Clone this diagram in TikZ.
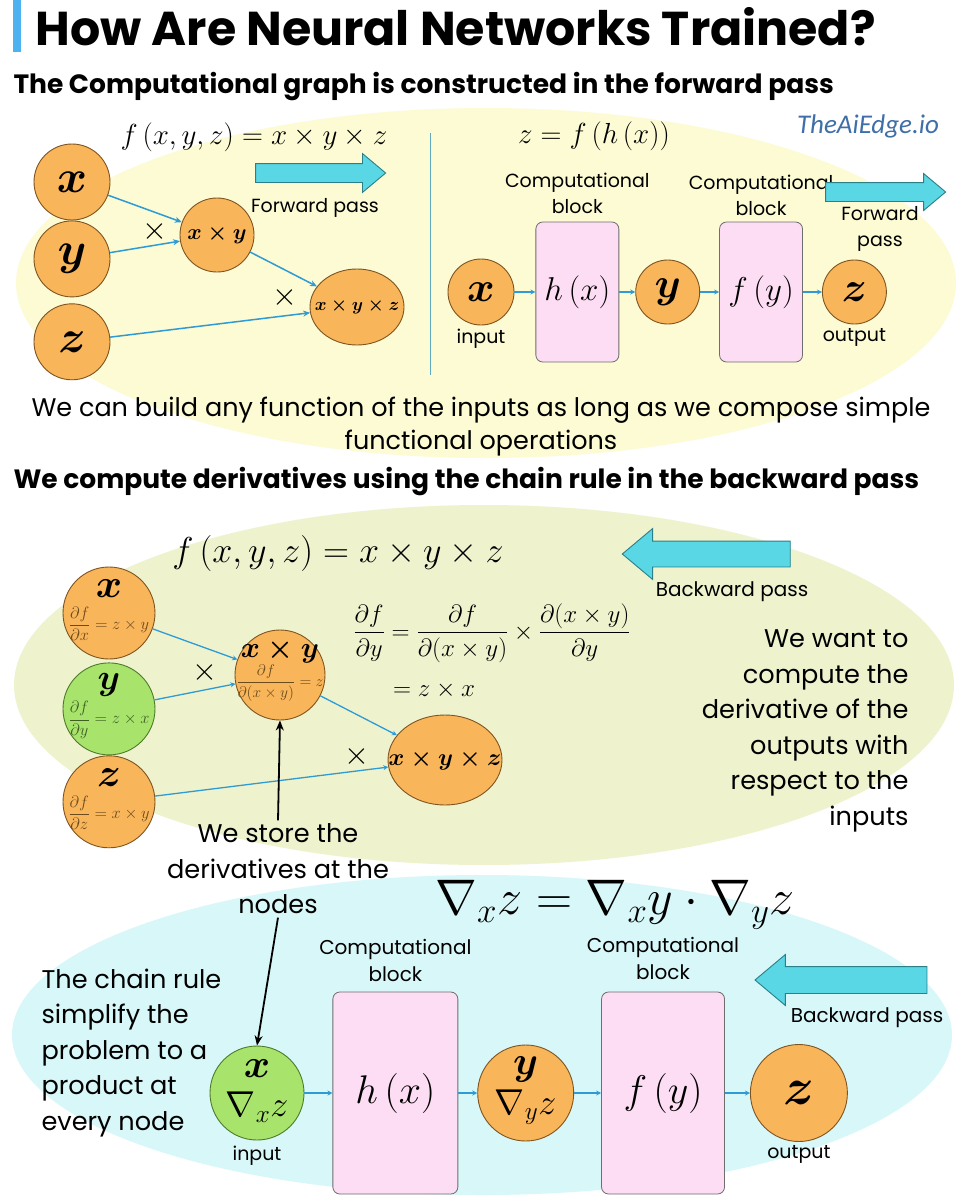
\RequirePackage{fix-cm}
\documentclass[tikz,border=0pt]{standalone}
\usepackage{amsmath}
\usepackage{amssymb}
\usepackage[no-math]{fontspec}
\setmainfont{Poppins}
\newfontfamily\brandfont{Carlito}
\usetikzlibrary{positioning, shapes.geometric, shapes.arrows, arrows.meta}

\definecolor{yellowbg}{HTML}{FCFBD3}
\definecolor{greenbg}{HTML}{EEF3CE}
\definecolor{cyanbg}{HTML}{D7F7F9}
\definecolor{bubfill}{HTML}{F9B55A}
\definecolor{bubedge}{HTML}{7E5420}
\definecolor{gbubfill}{HTML}{A8E46C}
\definecolor{gbubedge}{HTML}{4E7A2A}
\definecolor{blockfill}{HTML}{FDDDF3}
\definecolor{blockedge}{HTML}{6E6E6E}
\definecolor{arrowfill}{HTML}{5AD7E4}
\definecolor{arrowedge}{HTML}{2B7F88}
\definecolor{linkblue}{HTML}{2E9BD6}
\definecolor{titlebar}{HTML}{4DB3F0}
\definecolor{brandblue}{HTML}{3F6FA8}
\definecolor{derivbrown}{HTML}{6B4A1C}
\definecolor{derivgreen}{HTML}{3E5E22}
\definecolor{divline}{HTML}{5FA9C0}

\tikzset{
  bub/.style={circle, draw=bubedge, fill=bubfill, line width=0.9pt,
    inner sep=0pt, minimum size=#1},
  gbub/.style={bub=#1, draw=gbubedge, fill=gbubfill},
  oval/.style={ellipse, draw=bubedge, fill=bubfill, line width=0.9pt, inner sep=0pt},
  compblock/.style={rectangle, rounded corners=7pt, draw=blockedge, fill=blockfill,
    line width=0.8pt, inner sep=0pt},
  link/.style={-{Stealth[length=7pt, width=6pt]}, draw=linkblue, line width=1.5pt},
  slink/.style={-{Stealth[length=5pt, width=5pt]}, draw=linkblue, line width=1.3pt},
  pointer/.style={-{Stealth[length=10pt, width=8pt]}, draw=black, line width=1.8pt},
  blockarrow/.style={single arrow, draw=arrowedge, fill=arrowfill, line width=0.9pt,
    inner xsep=0pt, single arrow tip angle=80},
  caption/.style={font=\fontsize{19}{26}\selectfont, align=center},
  bodytext/.style={font=\fontsize{25.6}{35.5}\selectfont},
  heading/.style={font=\fontsize{26.5}{30}\selectfont\bfseries, anchor=west},
}

\begin{document}
\begin{tikzpicture}[x=1pt, y=-1pt]
    \useasboundingbox (0,0) rectangle (961,1200);
    \fill[white] (0,0) rectangle (961,1200);

    % backgrounds
    \fill[yellowbg] (486,283) ellipse [x radius=470, y radius=175];
    \fill[greenbg] (484,685) ellipse [x radius=470, y radius=180];
    \fill[cyanbg] (482,1035) ellipse [x radius=470, y radius=160];

    % title
    \fill[titlebar] (13,0) rectangle (21,52);
    \node[font=\fontsize{47.5}{50}\selectfont\bfseries, anchor=west] (title) at (32,27)
        {How Are Neural Networks Trained?};
    \node[heading] (sub1) at (10,87)
        {The Computational graph is constructed in the forward pass};

    % forward pass, left graph
    \node (ftop) at (254,137) {\fontsize{29}{29}\selectfont $f\,(x, y, z) = x \times y \times z$};
    \node[bub=76pt,
          font=\fontsize{46}{46}\selectfont
          ] (fx) at (72,182) {$\boldsymbol{x}$};
    \node[bub=76pt,
          below=0pt of fx,
          font=\fontsize{46}{46}\selectfont
          ] (fy) {$\boldsymbol{y}$};
    \node[bub=76pt,
          below=6pt of fy,
          font=\fontsize{46}{46}\selectfont
          ] (fz) {$\boldsymbol{z}$};
    \node[bub=74pt,
          font=\fontsize{22}{22}\selectfont
          ] (fxy) at (217,235) {$\boldsymbol{x \times y}$};
    \node[oval,
          minimum width=94pt, minimum height=76pt,
          label={[font=\fontsize{18}{18}\selectfont]center:$\boldsymbol{x \times y \times z}$}
          ] (fxyz) at (357,307) {};
    \node[font=\fontsize{32}{32}\selectfont] (ftimes1) at (155,231) {$\times$};
    \node[font=\fontsize{32}{32}\selectfont] (ftimes2) at (285,297) {$\times$};
    \node[blockarrow,
          minimum height=130pt, inner ysep=9pt,
          single arrow head extend=10pt
          ] (fwdA) at (315,173) {};
    \node[caption, below=12pt of fwdA] (fwdAlbl) {Forward pass};

    \draw[link] (fx) -- (fxy);
    \draw[link] (fy) -- (fxy);
    \draw[link] (fxy) -- (fxyz);
    \draw[link] (fz) -- (fxyz);

    % divider
    \coordinate (divtop) at (430,133);
    \coordinate (divbot) at (430,375);
    \draw[divline, line width=1pt] (divtop) -- (divbot);

    % forward pass, right chain
    \node (rfun) at (594,136) {\fontsize{29}{29}\selectfont $z = f\,(h\,(x))$};
    \node[font=\fontsize{27}{27}\brandfont\itshape, text=brandblue] (brand) at (868,126) {TheAiEdge.io};
    \node[bub=66pt, font=\fontsize{42}{42}\selectfont] (rx) at (481,292) {$\boldsymbol{x}$};
    \node[compblock,
          right=21pt of rx,
          minimum width=83pt, minimum height=140pt,
          font=\fontsize{33}{33}\selectfont
          ] (rh) {$h\,(x)$};
    \node[bub=64pt,
          right=16pt of rh,
          font=\fontsize{42}{42}\selectfont
          ] (ry) {$\boldsymbol{y}$};
    \node[compblock,
          right=19pt of ry,
          minimum width=83pt, minimum height=140pt,
          font=\fontsize{33}{33}\selectfont
          ] (rf) {$f\,(y)$};
    \node[bub=64pt,
          right=19pt of rf,
          font=\fontsize{42}{42}\selectfont
          ] (rz) {$\boldsymbol{z}$};
    \node[caption, above=4pt of rh] (rhlbl) {Computational\\block};
    \node[caption, above=2pt of rf] (rflbl) {Computational\\block};
    \node[caption, below=0pt of rx] (rin) {input};
    \node[caption, below=0pt of rz] (rout) {output};
    \node[blockarrow,
          minimum height=120pt, inner ysep=9pt,
          single arrow head extend=9pt
          ] (fwdB) at (880,192) {};
    \node[caption] (fwdBlbl) at (880,229) {Forward\\pass};

    \draw[slink] (rx) -- (rh);
    \draw[slink] (rh) -- (ry);
    \draw[slink] (ry) -- (rf);
    \draw[slink] (rf) -- (rz);

    \node[align=center, font=\fontsize{25.5}{33}\selectfont] (buildtxt) at (481,427)
        {We can build any function of the inputs as long as we compose simple\\functional operations};

    % backward pass, graph
    \node[heading] (sub2) at (10,482)
        {We compute derivatives using the chain rule in the backward pass};
    \node (btop) at (338,553) {\fontsize{36}{36}\selectfont $f\,(x, y, z) = x \times y \times z$};
    \node[blockarrow,
          minimum height=168pt, inner ysep=12.5pt,
          single arrow head extend=12.5pt,
          shape border rotate=180
          ] (bwdA) at (714,554) {};
    \node[caption, font=\fontsize{20}{24}\selectfont] (bwdAlbl) at (732,592) {Backward pass};

    \node[bub=92pt,
          label={[font=\fontsize{40}{40}\selectfont, yshift=24pt]center:$\boldsymbol{x}$},
          label={[font=\fontsize{16.5}{16.5}\selectfont, text=derivbrown, yshift=-11pt]center:$\dfrac{\partial f}{\partial x}=z\times y$}
          ] (bx) at (109,613) {};
    \node[gbub=92pt,
          below=3pt of bx,
          label={[font=\fontsize{36}{36}\selectfont, yshift=24pt]center:$\boldsymbol{y}$},
          label={[font=\fontsize{16.5}{16.5}\selectfont, text=derivgreen, yshift=-11pt]center:$\dfrac{\partial f}{\partial y}=z\times x$}
          ] (by) {};
    \node[bub=92pt,
          below=0pt of by,
          label={[font=\fontsize{40}{40}\selectfont, yshift=24pt]center:$\boldsymbol{z}$},
          label={[font=\fontsize{16.5}{16.5}\selectfont, text=derivbrown, yshift=-11pt]center:$\dfrac{\partial f}{\partial z}=x\times y$}
          ] (bz) {};
    \node[bub=90pt,
          label={[font=\fontsize{29}{29}\selectfont, yshift=24pt]center:$\boldsymbol{x \times y}$},
          label={[font=\fontsize{15.5}{15.5}\selectfont, text=derivbrown, yshift=-8pt]center:$\dfrac{\partial f}{\partial (x\times y)}=z$}
          ] (bxy) at (280,675) {};
    \node[oval,
          minimum width=114pt, minimum height=90pt,
          label={[font=\fontsize{24}{24}\selectfont]center:$\boldsymbol{x \times y \times z}$}
          ] (bxyz) at (445,760) {};
    \node[font=\fontsize{32}{32}\selectfont] (btimes1) at (205,672) {$\times$};
    \node[font=\fontsize{32}{32}\selectfont] (btimes2) at (357,756) {$\times$};

    \draw[slink] (bx) -- (bxy);
    \draw[slink] (by) -- (bxy);
    \draw[slink] (bxy) -- (bxyz);
    \draw[slink] (bz) -- (bxyz);

    \node[font=\fontsize{25}{25}\selectfont] (chain) at (492,633)
        {$\displaystyle \frac{\partial f}{\partial y} = \frac{\partial f}{\partial (x\times y)} \times \frac{\partial (x\times y)}{\partial y}$};
    \node[font=\fontsize{25}{25}\selectfont] (chain2) at (434,690) {$= z \times x$};

    \node[bodytext, align=right, anchor=east] (wanttxt) at (912,731)
        {We want to\\compute the\\derivative of the\\outputs with\\respect to the\\inputs};
    \node[bodytext, align=center] (storetxt) at (278,869)
        {We store the\\derivatives at the\\nodes};
    \draw[pointer] (storetxt.north) -- (bxy.south);

    % backward pass, chain
    \node (nabla) at (615,905)
        {\fontsize{50}{50}\selectfont $\nabla_{x} z = \nabla_{x} y \cdot \nabla_{y} z$};
    \node[bodytext, align=left, anchor=west] (chaintxt) at (38,1053)
        {The chain rule\\simplify the\\problem to a\\product at\\every node};
    \node[gbub=94pt,
          label={[font=\fontsize{40}{40}\selectfont, yshift=24pt]center:$\boldsymbol{x}$},
          label={[font=\fontsize{36}{36}\selectfont, yshift=-14pt]center:$\nabla_{x} z$}
          ] (cx) at (257,1093) {};
    \node[compblock,
          right=28pt of cx,
          minimum width=125pt, minimum height=202pt,
          font=\fontsize{40}{40}\selectfont
          ] (ch) {$h\,(x)$};
    \node[bub=96pt,
          right=19pt of ch,
          label={[font=\fontsize{40}{40}\selectfont, yshift=24pt]center:$\boldsymbol{y}$},
          label={[font=\fontsize{36}{36}\selectfont, yshift=-14pt]center:$\nabla_{y} z$}
          ] (cy) {};
    \node[compblock,
          right=27pt of cy,
          minimum width=123pt, minimum height=202pt,
          font=\fontsize{40}{40}\selectfont
          ] (cf) {$f\,(y)$};
    \node[bub=97pt,
          right=25pt of cf,
          font=\fontsize{52}{52}\selectfont
          ] (cz) {$\boldsymbol{z}$};
    \node[caption, font=\fontsize{20}{27}\selectfont, above=6pt of ch] (chlbl) {Computational\\block};
    \node[caption, font=\fontsize{20}{27}\selectfont, above=8pt of cf] (cflbl) {Computational\\block};
    \node[caption, below=2pt of cx] (cin) {input};
    \node[caption, below=0pt of cz] (cout) {output};
    \node[blockarrow,
          minimum height=172pt, inner ysep=13pt,
          single arrow head extend=12pt,
          shape border rotate=180
          ] (bwdB) at (849,980) {};
    \node[caption, font=\fontsize{20}{24}\selectfont] (bwdBlbl) at (867,1018) {Backward pass};

    \draw[slink] (cx) -- (ch);
    \draw[slink] (ch) -- (cy);
    \draw[slink] (cy) -- (cf);
    \draw[slink] (cf) -- (cz);
    \draw[pointer] (storetxt.south) -- (cx.north);
\end{tikzpicture}
\end{document}
